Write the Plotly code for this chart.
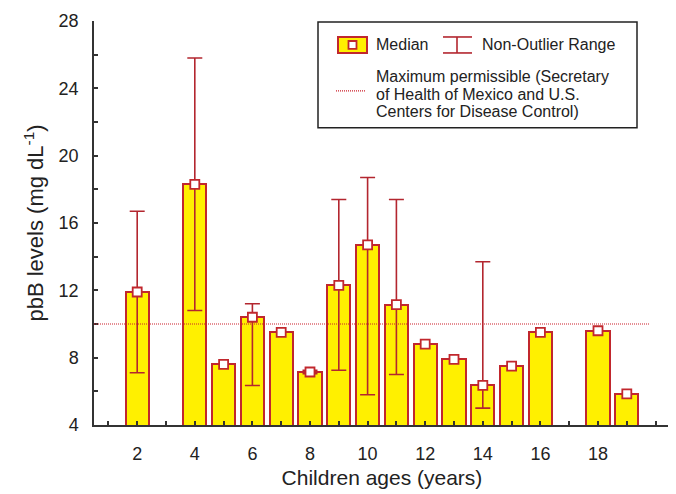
import plotly.graph_objects as go

# ---- data ----
ages = [2, 4, 5, 6, 7, 8, 9, 10, 11, 12, 13, 14, 15, 16, 18, 19]
medians = [11.9, 18.3, 7.6, 10.4, 9.5, 7.15, 12.3, 14.7, 11.15, 8.8, 7.9, 6.35, 7.5, 9.5, 9.6, 5.85]
range_low = [7.1, 10.8, None, 6.35, None, 7.05, 7.25, 5.8, 7.0, None, None, 5.0, None, None, None, None]
range_high = [16.7, 25.8, None, 11.2, None, 7.25, 17.4, 18.7, 17.4, None, None, 13.7, None, None, None, None]
max_permissible = 10
x_tick_vals = list(range(1, 21))
x_tick_text = ["" if (v % 2 or v > 18) else str(v) for v in x_tick_vals]
y_tick_vals = list(range(4, 29, 2))
y_tick_text = [str(v) if v % 4 == 0 else "" for v in y_tick_vals]

YELLOW = "#FFF000"
RED = "#C1272D"
ERR = "#B3262F"
LINE_RED = "#CC1F2A"
FONT = "Liberation Sans, Arial, sans-serif"
TXT = "#222222"

# the page body has an 8px margin; figure is sized to fit the 676x494 window
OFF = 8
W, H = 676 - OFF, 494 - OFF
L = 94 - OFF
R = W - (670 - OFF)
T = 21 - OFF
B = H - (425.5 - OFF)
PW, PH = W - L - R, H - T - B


def px(x):  # page pixel -> paper x
    return (x - OFF - L) / PW


def py(y):  # page pixel -> paper y
    return (H - B - (y - OFF)) / PH


fig = go.Figure()

fig.add_trace(go.Bar(
    x=ages, y=medians, width=0.81,
    marker=dict(color=YELLOW, line=dict(color=RED, width=2)),
    showlegend=False, hoverinfo="skip",
))

wx, wy, wp, wm = [], [], [], []
for a, m, lo, hi in zip(ages, medians, range_low, range_high):
    if lo is not None and hi is not None:
        wx.append(a)
        wy.append(m)
        wp.append(hi - m)
        wm.append(m - lo)

fig.add_trace(go.Scatter(
    x=wx, y=wy, mode="markers",
    marker=dict(size=1, color="rgba(0,0,0,0)"),
    error_y=dict(type="data", symmetric=False, array=wp, arrayminus=wm,
                 color=ERR, thickness=1.6, width=7.5),
    showlegend=False, hoverinfo="skip",
))

fig.add_trace(go.Scatter(
    x=ages, y=medians, mode="markers",
    marker=dict(symbol="square", size=9, color="white",
                line=dict(color=RED, width=1.8)),
    showlegend=False,
))

shapes = [
    dict(type="line", xref="paper", yref="y", x0=0, x1=px(650),
         y0=max_permissible, y1=max_permissible,
         line=dict(color=LINE_RED, width=1.2, dash="1px,1px")),
    # legend box
    dict(type="rect", xref="paper", yref="paper", x0=px(318), x1=px(637),
         y0=py(128), y1=py(22), line=dict(color="#222", width=1.5),
         fillcolor="white", layer="above"),
    # median symbol
    dict(type="rect", xref="paper", yref="paper", x0=px(338), x1=px(367),
         y0=py(53), y1=py(37), line=dict(color=RED, width=2),
         fillcolor=YELLOW, layer="above"),
    dict(type="rect", xref="paper", yref="paper", x0=px(348.5), x1=px(356.5),
         y0=py(49), y1=py(41), line=dict(color=RED, width=1.8),
         fillcolor="white", layer="above"),
    # range symbol
    dict(type="line", xref="paper", yref="paper", x0=px(457), x1=px(457),
         y0=py(53), y1=py(37), line=dict(color=ERR, width=1.6), layer="above"),
    dict(type="line", xref="paper", yref="paper", x0=px(443), x1=px(472),
         y0=py(37), y1=py(37), line=dict(color=ERR, width=1.6), layer="above"),
    dict(type="line", xref="paper", yref="paper", x0=px(443), x1=px(472),
         y0=py(53), y1=py(53), line=dict(color=ERR, width=1.6), layer="above"),
    # reference line symbol
    dict(type="line", xref="paper", yref="paper", x0=px(336), x1=px(365),
         y0=py(91), y1=py(91), line=dict(color=LINE_RED, width=1.2, dash="1px,1px"),
         layer="above"),
]

ann = []


def add_text(t, x, y):
    ann.append(dict(text=t, xref="paper", yref="paper", x=px(x), y=py(y),
                    xanchor="left", yanchor="middle", showarrow=False,
                    font=dict(family=FONT, size=16, color=TXT)))


add_text("Median", 374, 45)
add_text("Non-Outlier Range", 480, 45)
add_text("Maximum permissible (Secretary", 374, 77)
add_text("of Health of Mexico and U.S.", 374, 94.5)
add_text("Centers for Disease Control)", 374, 112)

axis_common = dict(
    showgrid=False, zeroline=False, showline=True, linecolor="#333", linewidth=1.5,
    ticks="inside", ticklen=4, tickwidth=1.5, tickcolor="#333",
    tickmode="array", tickfont=dict(family=FONT, size=18, color=TXT),
)

fig.update_layout(
    width=W, height=H,
    margin=dict(l=L, r=R, t=T, b=B, autoexpand=False),
    paper_bgcolor="white", plot_bgcolor="white",
    shapes=shapes, annotations=ann,
    bargap=0,
    xaxis=dict(**axis_common, range=[0.5, 20.5], tickvals=x_tick_vals,
               ticktext=x_tick_text, ticklabelstandoff=12,
               title=dict(text="Children ages (years)", standoff=7,
                          font=dict(family=FONT, size=21, color=TXT))),
    yaxis=dict(**axis_common, range=[4, 28], tickvals=y_tick_vals,
               ticktext=y_tick_text, ticklabelstandoff=10,
               title=dict(text="pbB levels (mg dL<sup>-1</sup>)", standoff=9,
                          font=dict(family=FONT, size=22, color=TXT))),
)

fig.write_html("out.html")
